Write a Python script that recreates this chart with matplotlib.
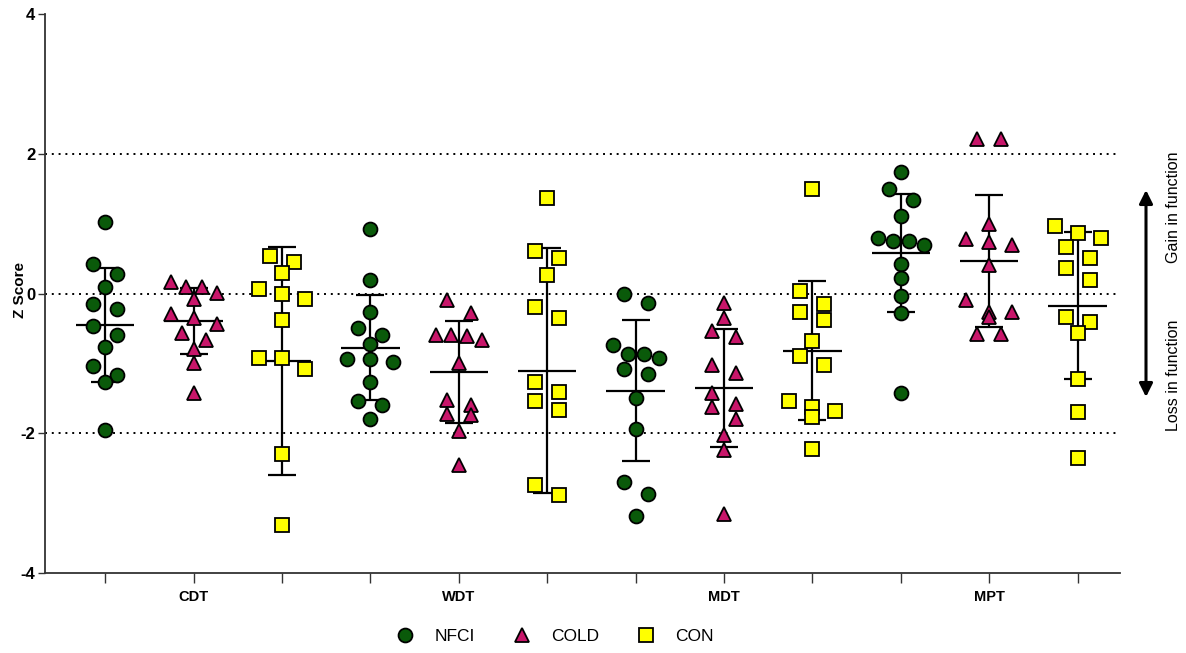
import numpy as np
import matplotlib.pyplot as plt
from matplotlib.lines import Line2D

plt.rcParams["font.family"] = ["Liberation Sans", "DejaVu Sans"]
plt.rcParams["axes.unicode_minus"] = False

tests = ["CDT", "WDT", "MDT", "MPT"]
groups = ["NFCI", "COLD", "CON"]

# individual z scores
nfci_cdt = [1.02, 0.42, 0.28, 0.10, -0.15, -0.22, -0.46, -0.59, -0.76, -1.04, -1.17, -1.26, -1.96]
cold_cdt = [0.17, 0.09, 0.09, 0.01, -0.08, -0.30, -0.35, -0.43, -0.56, -0.67, -0.79, -0.99, -1.42]
con_cdt = [0.54, 0.45, 0.30, 0.07, -0.01, -0.08, -0.38, -0.92, -0.92, -1.08, -2.30, -3.32]

nfci_wdt = [0.93, 0.20, -0.27, -0.50, -0.60, -0.72, -0.94, -0.94, -0.98, -1.27, -1.54, -1.60, -1.79]
cold_wdt = [-0.10, -0.28, -0.59, -0.60, -0.61, -0.66, -0.99, -1.52, -1.60, -1.72, -1.74, -1.97, -2.46]
con_wdt = [1.37, 0.61, 0.51, 0.27, -0.20, -0.35, -1.27, -1.41, -1.54, -1.67, -2.74, -2.88]

nfci_mdt = [0.00, -0.14, -0.74, -0.87, -0.87, -0.92, -1.08, -1.15, -1.50, -1.94, -2.70, -2.87, -3.18]
cold_mdt = [-0.13, -0.35, -0.54, -0.62, -1.02, -1.14, -1.42, -1.58, -1.63, -1.79, -2.02, -2.24, -3.15]
con_mdt = [1.49, 0.03, -0.15, -0.27, -0.38, -0.68, -0.89, -1.02, -1.54, -1.62, -1.68, -1.77, -2.23]

nfci_mpt = [1.74, 1.50, 1.34, 1.11, 0.80, 0.75, 0.75, 0.70, 0.42, 0.22, -0.04, -0.28, -1.42]
cold_mpt = [2.21, 2.21, 1.00, 0.78, 0.73, 0.69, 0.41, -0.09, -0.26, -0.26, -0.34, -0.58, -0.58]
con_mpt = [0.97, 0.86, 0.79, 0.66, 0.51, 0.36, 0.20, -0.33, -0.41, -0.56, -1.22, -1.70, -2.35]

# group mean and SD as drawn (one value per test)
mean_nfci = [-0.45, -0.775, -1.39, 0.58]
sd_nfci = [0.81, 0.755, 1.01, 0.84]
mean_cold = [-0.39, -1.13, -1.35, 0.465]
sd_cold = [0.47, 0.73, 0.84, 0.945]
mean_con = [-0.965, -1.105, -0.82, -0.175]
sd_con = [1.635, 1.755, 0.995, 1.055]

data = {
    "NFCI": [nfci_cdt, nfci_wdt, nfci_mdt, nfci_mpt],
    "COLD": [cold_cdt, cold_wdt, cold_mdt, cold_mpt],
    "CON": [con_cdt, con_wdt, con_mdt, con_mpt],
}
means = {"NFCI": mean_nfci, "COLD": mean_cold, "CON": mean_con}
sds = {"NFCI": sd_nfci, "COLD": sd_cold, "CON": sd_con}

style = {
    "NFCI": dict(marker="o", color="#0a5a0a", ms=10),
    "COLD": dict(marker="^", color="#c8166a", ms=10.5),
    "CON": dict(marker="s", color="#ffff00", ms=9.5),
}

fig = plt.figure(figsize=(11.86, 6.53), dpi=100)
ax = fig.add_axes([45 / 1186, 80 / 653, 1075 / 1186, 559 / 653])
ax.set_xlim(-0.68, 11.48)
ax.set_ylim(-4, 4)

# horizontal offsets (pixels) for a row of n points with similar values
row_offsets = {1: [0], 2: [-12, 12], 3: [-23, 0, 23], 4: [-23, -8, 8, 23]}


def scatter_rows(values, xc, thr=13.0):
    # group sorted values into rows of near-equal height, spread each row sideways
    ypx = np.array([ax.transData.transform((xc, v))[1] for v in values])
    px_per_x = ax.bbox.width / (ax.get_xlim()[1] - ax.get_xlim()[0])
    order = np.argsort(values)[::-1]
    rows, cur = [], [order[0]]
    for i in order[1:]:
        if ypx[cur[0]] - ypx[i] < thr:
            cur.append(i)
        else:
            rows.append(cur)
            cur = [i]
    rows.append(cur)
    offs = np.zeros(len(values))
    for r in rows:
        n = len(r)
        o = row_offsets.get(n, list((np.arange(n) - (n - 1) / 2) * 15.5))
        for i, dx in zip(r, o):
            offs[i] = dx
    return xc + offs / px_per_x


for y in [2, 0, -2]:
    ax.axhline(y, color="black", lw=1.4, ls=(0, (1, 2.5)), zorder=1)

for ti, test in enumerate(tests):
    for gi, g in enumerate(groups):
        xc = 3 * ti + gi
        m, s = means[g][ti], sds[g][ti]
        ax.errorbar(xc, m, yerr=s, fmt="none", ecolor="black", elinewidth=1.6,
                    capsize=10, capthick=1.6, zorder=2)
        ax.hlines(m, xc - 0.33, xc + 0.33, color="black", lw=1.6, zorder=2)
        vals = data[g][ti]
        st = style[g]
        ax.plot(scatter_rows(vals, xc), vals, ls="none", marker=st["marker"], ms=st["ms"],
                mfc=st["color"], mec="black", mew=1.3, zorder=3)

ax.set_xticks(range(12))
ax.set_xticklabels(["" if i % 3 != 1 else tests[i // 3] for i in range(12)],
                   fontsize=10.5, fontweight="bold")
ax.set_yticks([-4, -2, 0, 2, 4])
ax.set_yticklabels(["-4", "-2", "0", "2", "4"], fontsize=12, fontweight="bold")
ax.tick_params(axis="x", length=7, width=1, color="#333333", pad=5)
ax.tick_params(axis="y", length=5, width=1, color="#333333", pad=2)
for side in ["top", "right"]:
    ax.spines[side].set_visible(False)
for side in ["left", "bottom"]:
    ax.spines[side].set_color("#333333")
    ax.spines[side].set_linewidth(1.3)

fig.text(20 / 1186, 1 - 290 / 653, "Z Score", rotation=90, ha="center", va="center",
         fontsize=11, fontweight="bold")

# gain / loss arrow on the right
ax.annotate("", xy=(1146 / 1186, 1 - 190 / 653), xytext=(1146 / 1186, 1 - 397 / 653),
            xycoords="figure fraction", textcoords="figure fraction",
            arrowprops=dict(arrowstyle="<|-|>", color="black", lw=2.2, mutation_scale=20,
                            shrinkA=0, shrinkB=0))
fig.text(1174 / 1186, 1 - 207 / 653, "Gain in function", rotation=90, ha="center",
         va="center", fontsize=11.5)
fig.text(1174 / 1186, 1 - 375 / 653, "Loss in function", rotation=90, ha="center",
         va="center", fontsize=11.5)

handles = [Line2D([], [], ls="none", marker=style[g]["marker"], ms=style[g]["ms"],
                  mfc=style[g]["color"], mec="black", mew=1.3, label=g) for g in groups]
fig.legend(handles=handles, ncol=3, loc="center", bbox_to_anchor=(0.468, 0.025),
           frameon=False, fontsize=12.5, handlelength=1, handletextpad=1.2,
           columnspacing=2.2)

fig.savefig("out.png", dpi=100)
